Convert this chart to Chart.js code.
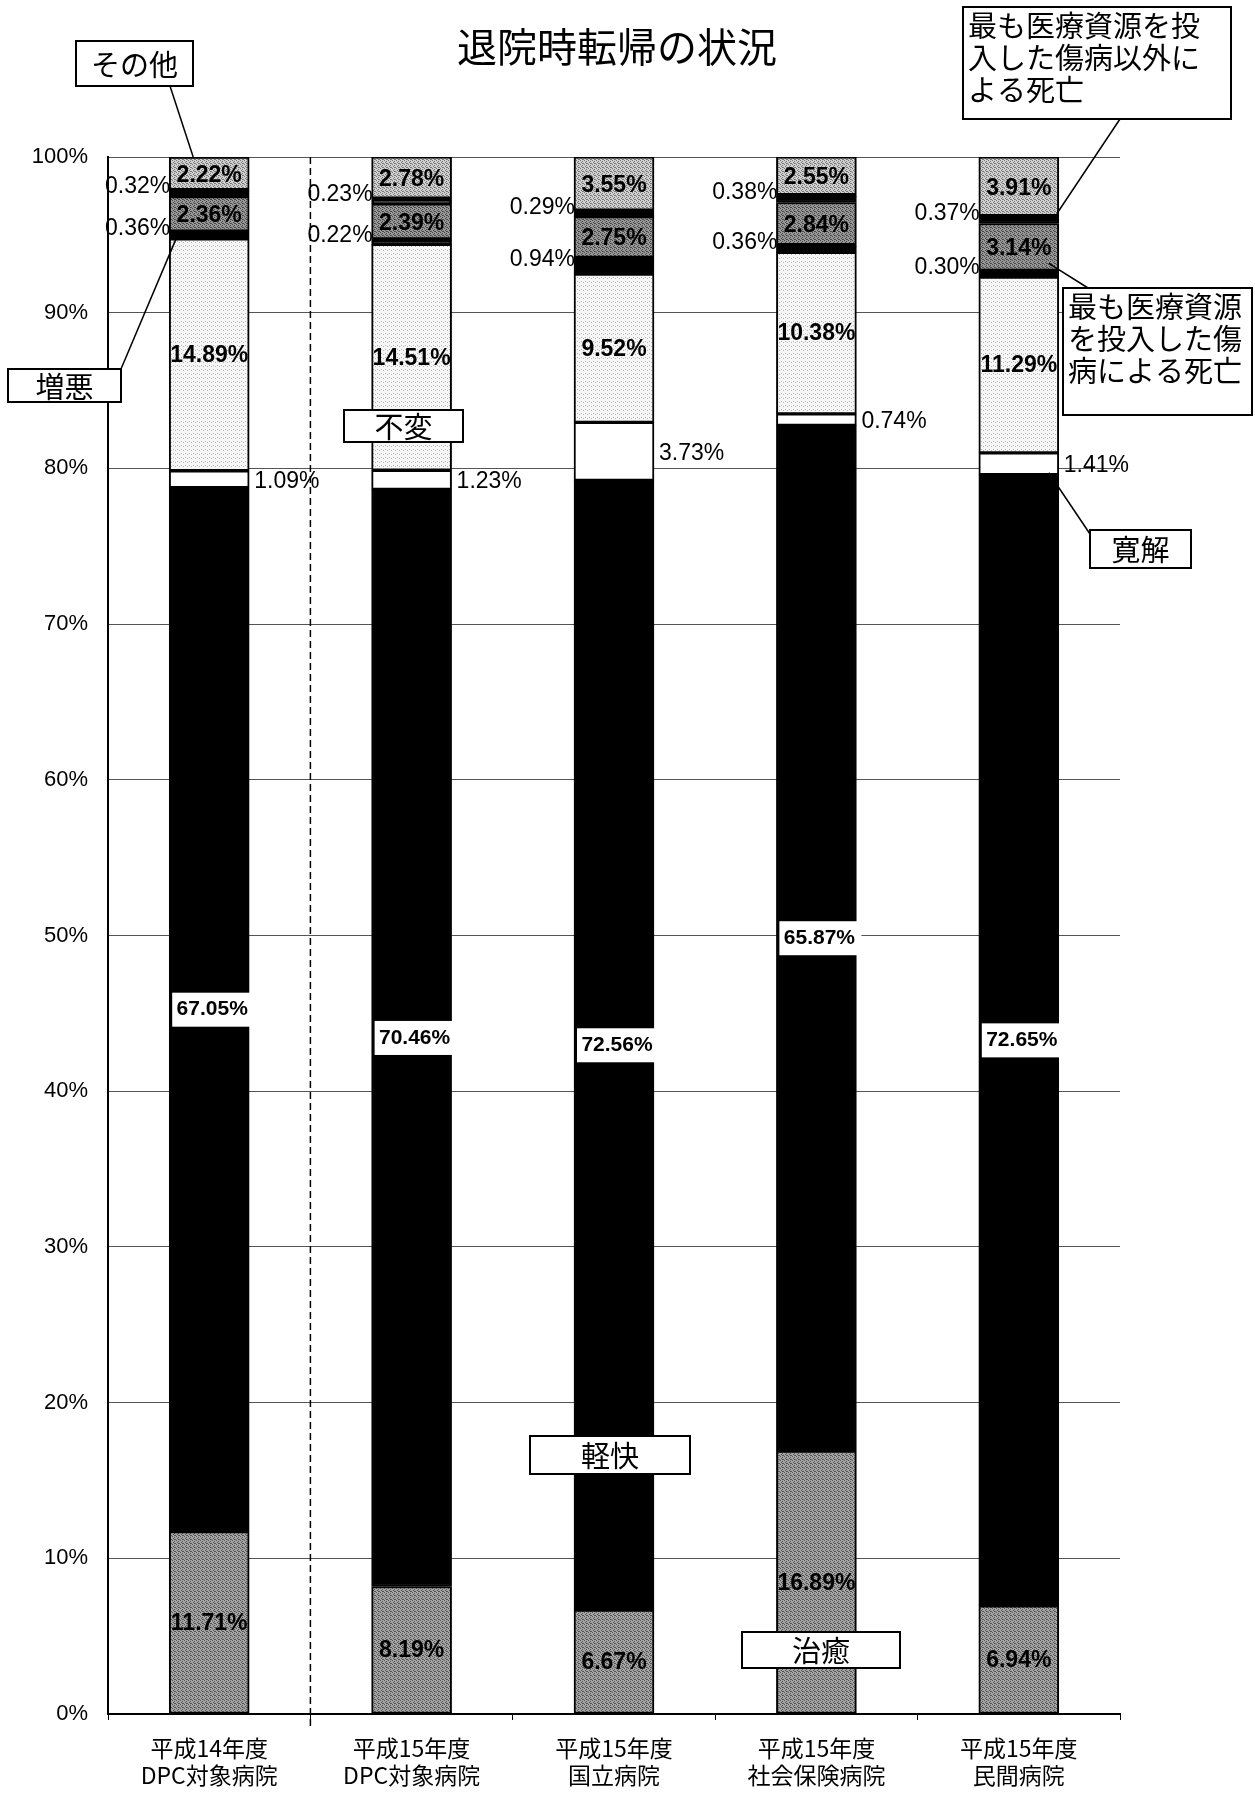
<!DOCTYPE html>
<html lang="ja">
<head>
<meta charset="utf-8">
<title>退院時転帰の状況</title>
<script src="https://cdn.jsdelivr.net/npm/chart.js@4.4.1/dist/chart.umd.min.js"></script>
<style>
  html, body { margin: 0; padding: 0; background: #fff; }
  #wrap { position: relative; width: 1255px; height: 1794px; }
</style>
</head>
<body>
<div id="wrap"><canvas id="chart"></canvas></div>
<script>
// --- data (percent of discharges, stacked bottom -> top) ---
const categories = [
    ['平成14年度', 'DPC対象病院'],
    ['平成15年度', 'DPC対象病院'],
    ['平成15年度', '国立病院'],
    ['平成15年度', '社会保険病院'],
    ['平成15年度', '民間病院']
];
const seriesNames = ['治癒', '軽快', '寛解', '不変', '増悪',
    '最も医療資源を投入した傷病による死亡', '最も医療資源を投入した傷病以外による死亡', 'その他'];
const cured      = [11.71, 8.19, 6.67, 16.89, 6.94];
const improved   = [67.05, 70.46, 72.56, 65.87, 72.65];
const remission  = [1.09, 1.23, 3.73, 0.74, 1.41];
const unchanged  = [14.89, 14.51, 9.52, 10.38, 11.29];
const worsened   = [0.36, 0.22, 0.94, 0.36, 0.30];
const deathMain  = [2.36, 2.39, 2.75, 2.84, 3.14];
const deathOther = [0.32, 0.23, 0.29, 0.38, 0.37];
const others     = [2.22, 2.78, 3.55, 2.55, 3.91];
const yTicks = [0, 10, 20, 30, 40, 50, 60, 70, 80, 90, 100];
const chartTitle = '退院時転帰の状況';

const JP = '"Noto Sans CJK JP", "Noto Sans", sans-serif';
const NUM = '"Liberation Sans", Arial, sans-serif';

const canvas = document.getElementById('chart');
const ctx = canvas.getContext('2d');

// small halftone tiles so the greys look like the scanned print
function dither(base, dot, cells) {
    const t = document.createElement('canvas');
    t.width = t.height = 4;
    const g = t.getContext('2d');
    g.fillStyle = base;
    g.fillRect(0, 0, 4, 4);
    g.fillStyle = dot;
    cells.forEach(([x, y]) => g.fillRect(x, y, 1, 1));
    return ctx.createPattern(t, 'repeat');
}
const dense = [[0, 0], [2, 1], [1, 2], [3, 3], [2, 3]];
const sparse = [[1, 1], [3, 2]];
const fillCured     = dither('#a4a4a4', '#555', dense);
const fillUnchanged = dither('#f6f6f6', '#b4b4b4', sparse);
const fillDeathMain = dither('#979797', '#4a4a4a', dense);
const fillOthers    = dither('#cfcfcf', '#7a7a7a', dense);

function ds(i, data, bg, bottomBorder) {
    return {
        label: seriesNames[i],
        data: data,
        backgroundColor: bg,
        borderColor: '#000',
        borderWidth: { top: 2, left: 2, right: 2, bottom: bottomBorder || 2 },
        borderSkipped: false,
        barThickness: 80
    };
}

// --- plugin: title, value labels, divider and callouts ---
const decorations = {
    id: 'decorations',
    afterDraw(chart) {
        const c = chart.ctx;
        const area = chart.chartArea;
        const x = chart.scales.x;
        const bar = (d, i) => chart.getDatasetMeta(d).data[i];

        c.save();

        // title
        c.fillStyle = '#000';
        c.font = '40px ' + JP;
        c.textAlign = 'center';
        c.textBaseline = 'middle';
        c.fillText(chartTitle, 617, 47);

        // dashed divider between 平成14年度 and 平成15年度
        const divX = (x.getPixelForValue(0) + x.getPixelForValue(1)) / 2;
        c.strokeStyle = '#000';
        c.lineWidth = 1.5;
        c.setLineDash([7, 4]);
        c.beginPath();
        c.moveTo(divX, area.top);
        c.lineTo(divX, area.bottom + 14);
        c.stroke();
        c.setLineDash([]);

        // value labels
        const fmt = v => v.toFixed(2) + '%';
        chart.data.datasets.forEach((set, d) => {
            set.data.forEach((v, i) => {
                const el = bar(d, i);
                const cy = (el.y + el.base) / 2;
                const left = el.x - el.width / 2;
                const right = el.x + el.width / 2;
                c.fillStyle = '#000';
                if (d === 1) {
                    c.fillStyle = '#fff';
                    c.fillRect(left + 3, cy - 17, el.width + 2, 34);
                    c.fillStyle = '#000';
                    c.font = 'bold 21px ' + NUM;
                    c.textAlign = 'center';
                    c.fillText(fmt(v), el.x + 3, cy);
                } else if (d === 2) {
                    c.font = '23px ' + NUM;
                    c.textAlign = 'left';
                    c.fillText(fmt(v), right + 5, cy + 2);
                } else if (d === 4 || d === 6) {
                    c.font = '23px ' + NUM;
                    c.textAlign = 'right';
                    c.fillText(fmt(v), left + 1, cy - 7);
                } else {
                    c.font = 'bold 23px ' + NUM;
                    c.textAlign = 'center';
                    c.fillText(fmt(v), el.x, cy + 1);
                }
            });
        });

        // callout boxes (leader lines first, then the boxes on top)
        const b0 = bar(7, 0), w0 = bar(4, 0);
        const r5 = bar(2, 4), m5 = bar(5, 4), o5 = bar(6, 4);
        const callouts = [
            { box: [76, 41, 117, 45], lines: ['その他'], center: true,
              from: [170, 86], to: [b0.x - b0.width / 2 + 24, b0.y] },
            { box: [8, 369, 113, 33], lines: ['増悪'], center: true,
              from: [121, 369], to: [w0.x - w0.width / 2 + 8, (w0.y + w0.base) / 2] },
            { box: [344, 410, 119, 32], lines: ['不変'], center: true },
            { box: [530, 1436, 160, 38], lines: ['軽快'], center: true },
            { box: [742, 1632, 158, 36], lines: ['治癒'], center: true },
            { box: [1090, 530, 101, 38], lines: ['寛解'], center: true,
              from: [1090, 534], to: [r5.x + r5.width / 2 - 10, r5.base - 2] },
            { box: [1063, 288, 189, 127], lines: ['最も医療資源', 'を投入した傷', '病による死亡'],
              from: [1088, 288], to: [m5.x + m5.width / 2 - 10, m5.base - 9] },
            { box: [963, 7, 268, 112], lines: ['最も医療資源を投', '入した傷病以外に', 'よる死亡'],
              from: [1120, 119], to: [o5.x + o5.width / 2 - 2, o5.y - 4] }
        ];
        c.lineWidth = 1.5;
        c.strokeStyle = '#000';
        callouts.forEach(co => {
            if (!co.from) return;
            c.beginPath();
            c.moveTo(co.from[0], co.from[1]);
            c.lineTo(co.to[0], co.to[1]);
            c.stroke();
        });
        c.font = '29px ' + JP;
        c.textBaseline = 'middle';
        callouts.forEach(co => {
            const [bx, by, bw, bh] = co.box;
            c.fillStyle = '#fff';
            c.fillRect(bx, by, bw, bh);
            c.lineWidth = 2;
            c.strokeRect(bx, by, bw, bh);
            c.fillStyle = '#000';
            if (co.center) {
                c.textAlign = 'center';
                c.fillText(co.lines[0], bx + bw / 2, by + bh / 2 + 1);
            } else {
                c.textAlign = 'left';
                co.lines.forEach((t, k) => c.fillText(t, bx + 5, by + 19 + k * 32));
            }
        });

        c.restore();
    }
};

new Chart(ctx, {
    type: 'bar',
    data: {
        labels: categories,
        datasets: [
            ds(0, cured, fillCured),
            ds(1, improved, '#000'),
            ds(2, remission, '#fff'),
            ds(3, unchanged, fillUnchanged),
            ds(4, worsened, '#000'),
            ds(5, deathMain, fillDeathMain, 4),
            ds(6, deathOther, '#000'),
            ds(7, others, fillOthers, 4)
        ]
    },
    options: {
        responsive: true,
        maintainAspectRatio: false,
        animation: false,
        devicePixelRatio: 1,
        layout: { padding: { top: 157, right: 135, left: 0, bottom: 0 } },
        plugins: {
            legend: { display: false },
            tooltip: { enabled: false }
        },
        scales: {
            x: {
                stacked: true,
                grid: { drawOnChartArea: false, color: '#000', tickLength: 6 },
                border: { color: '#000', width: 2 },
                ticks: { color: '#000', font: { family: JP, size: 23, lineHeight: 1.2 }, padding: 14 },
                afterFit: s => { s.height = 80; }
            },
            y: {
                stacked: true,
                min: 0,
                max: 100,
                afterBuildTicks: s => { s.ticks = yTicks.map(v => ({ value: v })); },
                ticks: { color: '#000', font: { family: NUM, size: 22 }, padding: 20, callback: v => v + '%' },
                grid: { color: '#555', lineWidth: 1, drawTicks: false },
                border: { color: '#000', width: 2 },
                afterFit: s => { s.width = 108; }
            }
        }
    },
    plugins: [decorations]
});
</script>
</body>
</html>
